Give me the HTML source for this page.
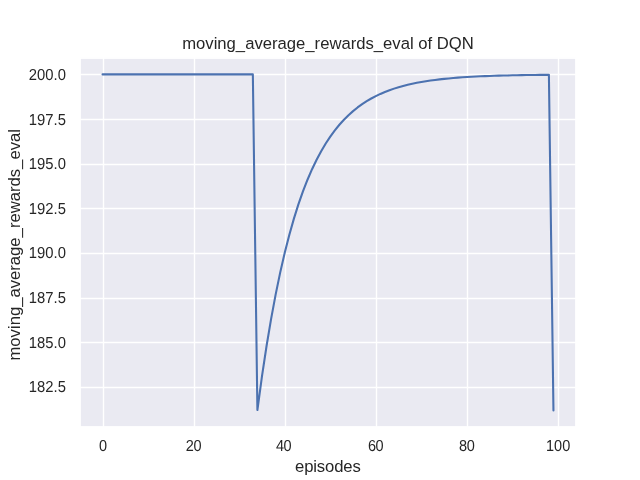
<!DOCTYPE html>
<html lang="en"><head><meta charset="utf-8"><title>moving_average_rewards_eval of DQN</title>
<style>html,body{margin:0;padding:0;background:#fff;overflow:hidden}svg{display:block}text{font-family:"Liberation Sans",sans-serif;fill:#262626}.t{font-size:15.278px;text-rendering:geometricPrecision}.l{font-size:16.667px}.g{stroke:#fff;stroke-width:1.389;stroke-linecap:round;fill:none}</style></head><body>
<svg width="640" height="480" viewBox="0 0 640 480">
<rect width="640" height="480" fill="#fff"/>
<rect x="80.0" y="57.6" width="496.0" height="369.6" fill="#eaeaf2"/>
<clipPath id="c"><rect x="80.0" y="57.6" width="496.0" height="369.6"/></clipPath>
<g clip-path="url(#c)">
<path class="g" d="M103.5 427.2V57.6"/>
<path class="g" d="M194.5 427.2V57.6"/>
<path class="g" d="M285.5 427.2V57.6"/>
<path class="g" d="M376.5 427.2V57.6"/>
<path class="g" d="M467.5 427.2V57.6"/>
<path class="g" d="M558.5 427.2V57.6"/>
<path class="g" d="M80.0 387.5H576.0"/>
<path class="g" d="M80.0 342.5H576.0"/>
<path class="g" d="M80.0 298.5H576.0"/>
<path class="g" d="M80.0 253.5H576.0"/>
<path class="g" d="M80.0 208.5H576.0"/>
<path class="g" d="M80.0 164.5H576.0"/>
<path class="g" d="M80.0 119.5H576.0"/>
<path class="g" d="M80.0 74.5H576.0"/>
<polyline points="102.545,74.400 107.100,74.400 111.655,74.400 116.209,74.400 120.764,74.400 125.319,74.400 129.873,74.400 134.428,74.400 138.983,74.400 143.537,74.400 148.092,74.400 152.646,74.400 157.201,74.400 161.756,74.400 166.310,74.400 170.865,74.400 175.420,74.400 179.974,74.400 184.529,74.400 189.084,74.400 193.638,74.400 198.193,74.400 202.747,74.400 207.302,74.400 211.857,74.400 216.411,74.400 220.966,74.400 225.521,74.400 230.075,74.400 234.630,74.400 239.185,74.400 243.739,74.400 248.294,74.400 252.848,74.400 257.403,410.044 261.958,376.479 266.512,346.272 271.067,319.084 275.622,294.616 280.176,272.594 284.731,252.775 289.286,234.937 293.840,218.884 298.395,204.435 302.949,191.432 307.504,179.729 312.059,169.196 316.613,159.716 321.168,151.185 325.723,143.506 330.277,136.595 334.832,130.376 339.387,124.778 343.941,119.741 348.496,115.206 353.051,111.126 357.605,107.453 362.160,104.148 366.714,101.173 371.269,98.496 375.824,96.086 380.378,93.918 384.933,91.966 389.488,90.209 394.042,88.628 398.597,87.205 403.152,85.925 407.706,84.772 412.261,83.735 416.815,82.802 421.370,81.962 425.925,81.205 430.479,80.525 435.034,79.912 439.589,79.361 444.143,78.865 448.698,78.419 453.253,78.017 457.807,77.655 462.362,77.329 466.916,77.037 471.471,76.773 476.026,76.536 480.580,76.322 485.135,76.130 489.690,75.957 494.244,75.801 498.799,75.661 503.354,75.535 507.908,75.421 512.463,75.319 517.017,75.227 521.572,75.145 526.127,75.070 530.681,75.003 535.236,74.943 539.791,74.889 544.345,74.840 548.900,74.796 553.455,410.400" fill="none" stroke="#4c72b0" stroke-width="2.083" stroke-linejoin="round" stroke-linecap="round"/>
</g>
<rect x="80" y="58" width="496" height="369" fill="none" stroke="#fff" stroke-width="1.736"/>
<text class="t" text-anchor="middle" transform="translate(103.145 451) scale(0.95 1.04)">0</text>
<text class="t" text-anchor="middle" textLength="16.5" transform="translate(193.638 451) scale(0.95 1.04)">20</text>
<text class="t" text-anchor="middle" textLength="16.5" transform="translate(283.781 451) scale(0.95 1.04)">40</text>
<text class="t" text-anchor="middle" textLength="16.5" transform="translate(375.824 451) scale(0.95 1.04)">60</text>
<text class="t" text-anchor="middle" textLength="16.5" transform="translate(466.916 451) scale(0.95 1.04)">80</text>
<text class="t" text-anchor="middle" transform="translate(558.109 451) scale(0.95 1.04)">100</text>
<text class="t" text-anchor="end" transform="translate(65.906 392) scale(0.97 1.04)">182.5</text>
<text class="t" text-anchor="end" transform="translate(65.906 348) scale(0.97 1.04)">185.0</text>
<text class="t" text-anchor="end" transform="translate(65.906 303) scale(0.97 1.04)">187.5</text>
<text class="t" text-anchor="end" transform="translate(65.906 258) scale(0.97 1.04)">190.0</text>
<text class="t" text-anchor="end" transform="translate(65.906 214) scale(0.97 1.04)">192.5</text>
<text class="t" text-anchor="end" transform="translate(65.906 169) scale(0.97 1.04)">195.0</text>
<text class="t" text-anchor="end" transform="translate(65.906 125) scale(0.97 1.04)">197.5</text>
<text class="t" text-anchor="end" transform="translate(65.906 80) scale(0.97 1.04)">200.0</text>
<text class="l" text-anchor="middle" textLength="65.8" x="327.9" y="472.270">episodes</text>
<text class="l" text-anchor="middle" x="19.564" y="244.800" transform="rotate(-90 19.564 244.800)">moving_average_rewards_eval</text>
<text class="l" text-anchor="middle" x="328" y="49.267">moving_average_rewards_eval of DQN</text>
</svg></body></html>
